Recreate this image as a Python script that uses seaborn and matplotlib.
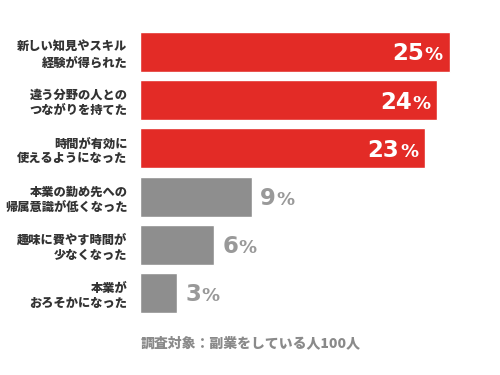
import matplotlib
matplotlib.use("Agg")
import matplotlib.pyplot as plt
import seaborn as sns

# data
labels = [
    "新しい知見やスキル\n経験が得られた",
    "違う分野の人との\nつながりを持てた",
    "時間が有効に\n使えるようになった",
    "本業の勤め先への\n帰属意識が低くなった",
    "趣味に費やす時間が\n少なくなった",
    "本業が\nおろそかになった",
]
values = [25, 24, 23, 9, 6, 3]
colors = ["#e32b26", "#e32b26", "#e32b26", "#8e8e8e", "#8e8e8e", "#8e8e8e"]
footer = "調査対象：副業をしている人100人"

sns.set_style("white")
plt.rcParams["font.family"] = ["Noto Sans CJK JP", "DejaVu Sans"]

fig = plt.figure(figsize=(5, 3.75), dpi=100)
ax = fig.add_axes([0.28, 0.1547, 0.694, 0.771])

sns.barplot(x=values, y=labels, hue=labels, palette=colors, legend=False,
            orient="h", width=0.83, ax=ax, saturation=1)

ax.set_xlim(0, 28)
ax.set_ylim(5.5, -0.5)
ax.set_xticks([])
ax.set_xlabel("")
ax.set_ylabel("")
for s in ax.spines.values():
    s.set_visible(False)

ax.tick_params(axis="y", length=0, pad=9)
for t in ax.get_yticklabels():
    t.set_fontsize(8.8)
    t.set_fontweight("heavy")
    t.set_color("#333333")
    t.set_multialignment("right")
    t.set_linespacing(1.3)

# value labels: big digits with a smaller percent sign
num_size, pct_size = 16.5, 13
fig.canvas.draw()
renderer = fig.canvas.get_renderer()
for i, v in enumerate(values):
    inside = v >= 15
    col = "white" if inside else "#999999"
    x_pix, y_pix = ax.transData.transform((v, i))
    base = y_pix - 0.365 * num_size * 100 / 72
    if inside:
        pct = fig.text((x_pix - 7) / 500, base / 375, "%", ha="right", va="baseline",
                       color=col, fontsize=pct_size, fontweight="bold", family="DejaVu Sans")
        w = pct.get_window_extent(renderer).width
        fig.text((x_pix - 7.5 - w) / 500, base / 375, str(v), ha="right", va="baseline",
                 color=col, fontsize=num_size, fontweight="bold", family="DejaVu Sans")
    else:
        num = fig.text((x_pix + 8) / 500, base / 375, str(v), ha="left", va="baseline",
                       color=col, fontsize=num_size, fontweight="bold", family="DejaVu Sans")
        w = num.get_window_extent(renderer).width
        fig.text((x_pix + 8.5 + w) / 500, base / 375, "%", ha="left", va="baseline",
                 color=col, fontsize=pct_size, fontweight="bold", family="DejaVu Sans")

fig.text(0.502, 1 - 343 / 375, footer, ha="center", va="center",
         fontsize=10, fontweight="heavy", color="#8a8a8a")

fig.savefig("out.png", dpi=100)
